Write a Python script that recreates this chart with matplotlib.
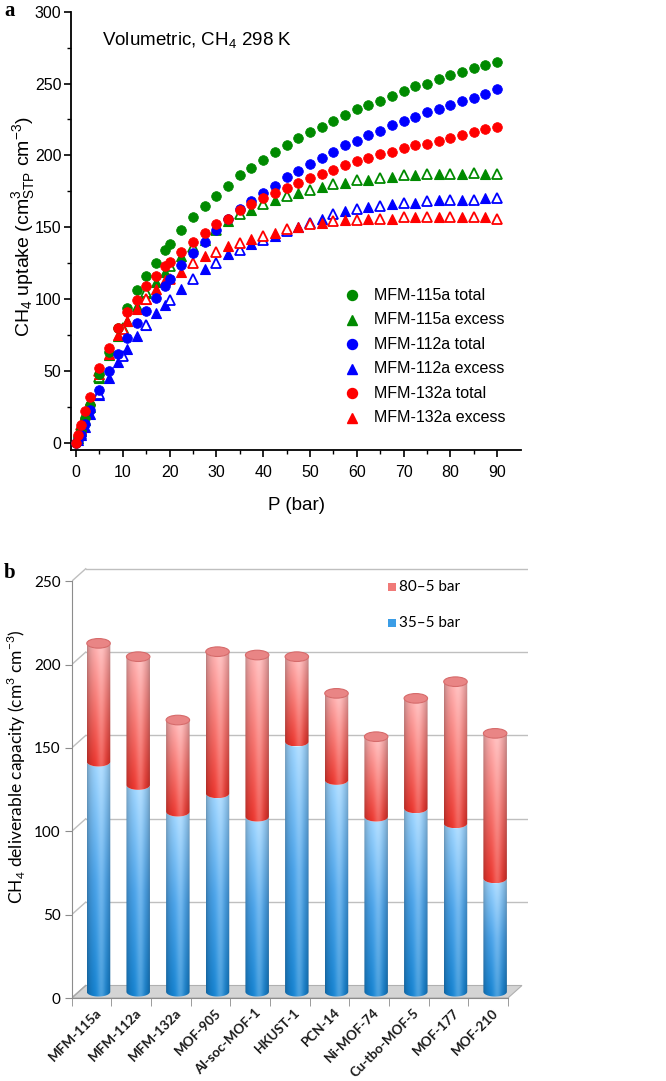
import numpy as np
import matplotlib
matplotlib.use('Agg')
import matplotlib.pyplot as plt
import matplotlib.transforms as mtransforms
from matplotlib.path import Path
from matplotlib.patches import PathPatch, Ellipse, Polygon, Rectangle

# ---------------- data: panel a ----------------
P_total = [0, 0.5, 1, 2, 3, 5, 7, 9, 11, 13, 15, 17, 19, 20, 22.5, 25, 27.5, 30, 32.5, 35,
           37.5, 40, 42.5, 45, 47.5, 50, 52.5, 55, 57.5, 60, 62.5, 65, 67.5, 70, 72.5, 75,
           77.5, 80, 82.5, 85, 87.5, 90]
mfm115_total = [0, 4, 9, 17, 26, 48, 63, 80, 94, 106, 116, 125, 134, 138, 148, 157, 165, 172, 179, 186,
                191, 197, 202, 207, 212, 216, 220, 224, 228, 232, 235, 238, 241, 245, 248, 250,
                253, 256, 258, 261, 263, 265]
mfm112_total = [0, 2, 5, 13, 23, 37, 50, 62, 73, 83, 92, 101, 109, 114, 124, 132, 140, 148, 156, 163,
                168, 174, 179, 185, 189, 194, 198, 202, 207, 210, 214, 217, 221, 224, 227, 230,
                232, 235, 238, 240, 243, 246]
mfm132_total = [0, 5, 12, 22, 32, 52, 66, 80, 91, 99, 109, 116, 123, 126, 133, 140, 146, 152, 156, 162,
                166, 170, 174, 177, 181, 184, 187, 190, 193, 196, 198, 201, 202, 205, 207, 208,
                210, 212, 214, 216, 218, 220]

P_ads = [0.5, 1, 2, 3, 5, 7, 9, 11, 13, 15, 17, 19, 22.5, 27.5, 32.5, 37.5, 42.5, 47.5, 52.5,
         57.5, 62.5, 67.5, 72.5, 77.5, 82.5, 87.5]
P_des = [1, 5, 10, 15, 20, 25, 30, 35, 40, 45, 50, 55, 60, 65, 70, 75, 80, 85, 90]

mfm115_exc_ads = [3, 8, 16, 25, 45, 61, 74, 85, 95, 104, 112, 119, 130, 141, 154, 162, 169, 174, 178,
                  181, 183, 185, 186, 187, 187, 187]
mfm115_exc_des = [9, 46, 80, 105, 123, 136, 148, 159, 166, 172, 176, 180, 183, 184, 186, 187, 187, 188, 187]
mfm112_exc_ads = [2, 5, 11, 20, 33, 45, 56, 65, 74, 82, 90, 96, 107, 121, 131, 138, 144, 150, 156,
                  161, 164, 166, 167, 169, 169, 170]
mfm112_exc_des = [6, 34, 60, 82, 99, 114, 125, 134, 141, 147, 153, 159, 163, 165, 167, 168, 169, 169, 170]
mfm132_exc_ads = [5, 10, 20, 30, 48, 62, 75, 85, 93, 100, 107, 113, 119, 130, 137, 142, 146, 150, 153,
                  155, 156, 156, 157, 157, 157, 157]
mfm132_exc_des = [12, 50, 79, 100, 114, 125, 133, 139, 144, 149, 152, 154, 155, 156, 157, 157, 157, 157, 156]

series_labels = ['MFM-115a total', 'MFM-115a excess', 'MFM-112a total', 'MFM-112a excess',
                 'MFM-132a total', 'MFM-132a excess']

# ---------------- data: panel b ----------------
materials = ['MFM-115a', 'MFM-112a', 'MFM-132a', 'MOF-905', 'Al-soc-MOF-1', 'HKUST-1', 'PCN-14',
             'Ni-MOF-74', 'Cu-tbo-MOF-5', 'MOF-177', 'MOF-210']
deliv_35_5 = [138, 124, 108, 119, 105, 150, 127, 105, 110, 101, 68]
deliv_80_5 = [209, 201, 163, 204, 202, 201, 179, 153, 176, 186, 155]
legend_b = ['80\u20135 bar', '35\u20135 bar']

# ---------------- figure ----------------
W, H = 666, 1081
plt.rcParams['font.family'] = ['Liberation Sans', 'DejaVu Sans']
fig = plt.figure(figsize=(W / 100, H / 100), dpi=100)


def rect(l, t, r, b):
    return [l / W, 1 - b / H, (r - l) / W, (b - t) / H]


def fx(px):
    return px / W


def fy(py):
    return 1 - py / H


# ======== panel a ========
ax1 = fig.add_axes(rect(71.3, 11.7, 520.6, 450))
ax1.set_xlim(-1, 95)
ax1.set_ylim(-5.1, 300)
for s in ['top', 'right']:
    ax1.spines[s].set_visible(False)
for s in ['left', 'bottom']:
    ax1.spines[s].set_linewidth(1.3)
ax1.set_xticks(np.arange(0, 91, 10))
ax1.set_xticks(np.arange(0, 91, 5), minor=True)
ax1.set_yticks(np.arange(0, 301, 50))
ax1.set_yticks(np.arange(0, 301, 25), minor=True)
ax1.tick_params(which='major', direction='out', length=5, width=1.2, labelsize=11.5)
ax1.tick_params(which='minor', direction='out', length=3, width=1.0)
ax1.tick_params(axis='x', pad=6)
ax1.tick_params(axis='y', pad=2)

GREEN, BLUE, RED = '#008a00', '#0000ff', '#ff0000'
series = [
    (GREEN, mfm115_total, mfm115_exc_ads, mfm115_exc_des),
    (BLUE, mfm112_total, mfm112_exc_ads, mfm112_exc_des),
    (RED, mfm132_total, mfm132_exc_ads, mfm132_exc_des),
]
for col, tot, ads, des in series:
    ax1.plot(P_ads, ads, ls='none', marker='^', ms=7.2, mfc=col, mec=col, mew=0.8, zorder=3)
    ax1.plot(P_des, des, ls='none', marker='^', ms=6.8, mfc='white', mec=col, mew=1.3, zorder=3)
for col, tot, ads, des in series:
    ax1.plot(P_total, tot, ls='none', marker='o', ms=7.0, mfc=col, mec=col, mew=0.5, zorder=4)

# legend (manual)
leg_y0, leg_dy = 295, 24.6
for k, lab in enumerate(series_labels):
    col = [GREEN, GREEN, BLUE, BLUE, RED, RED][k]
    mk = 'o' if k % 2 == 0 else '^'
    yy = leg_y0 + k * leg_dy
    fig.lines.append(plt.Line2D([fx(352)], [fy(yy)], transform=fig.transFigure, ls='none',
                                marker=mk, ms=7.2, mfc=col, mec=col))
    fig.text(fx(374), fy(yy), lab, fontsize=11.5, va='center', ha='left')

fig.text(fx(102), fy(46), r'Volumetric, CH$_\mathregular{4}$ 298 K', fontsize=13.5,
         va='baseline', ha='left')
fig.text(fx(296), fy(505), 'P (bar)', fontsize=13.5, ha='center', va='center')
fig.text(fx(24), fy(227), r'CH$_\mathregular{4}$ uptake (cm$\mathregular{^3_{STP}}$ cm$\mathregular{^{-3}}$)',
         fontsize=14, rotation=90, ha='center', va='center')
fig.text(fx(4), fy(11), 'a', fontfamily='Liberation Serif', fontweight='bold', fontsize=15,
         va='center', ha='left')
fig.text(fx(4), fy(573), 'b', fontfamily='Liberation Serif', fontweight='bold', fontsize=15,
         va='center', ha='left')

# ======== panel b ========
PX_CAT = 39.66
PX_VAL = 1.667
x_left_px, y_zero_px = 71.7, 998.0
xmax, ymin, ymax = 11.0, -3.0, 262.0
ax2 = fig.add_axes(rect(x_left_px, y_zero_px - ymax * PX_VAL,
                        x_left_px + (xmax + 0.5) * PX_CAT, y_zero_px - ymin * PX_VAL))
ax2.set_xlim(-0.5, xmax)
ax2.set_ylim(ymin, ymax)
ax2.patch.set_alpha(0)
n = len(materials)
DX = 14.0 / PX_CAT
DY = 12.5 / PX_VAL
GRID = '#bfbfbf'
AXC = '#8c8c8c'

for s in ['top', 'right']:
    ax2.spines[s].set_visible(False)
ax2.spines['left'].set_bounds(0, 250)
ax2.spines['left'].set_color(AXC)
ax2.spines['bottom'].set_position(('data', 0))
ax2.spines['bottom'].set_bounds(-0.5, n - 0.5)
ax2.spines['bottom'].set_color(AXC)
ax2.set_yticks(np.arange(0, 251, 50))
ax2.set_xticks(np.arange(n))
ax2.set_xticks(np.arange(n + 1) - 0.5, minor=True)
ax2.tick_params(axis='y', which='major', direction='out', length=5, color=AXC, labelsize=11, pad=3)
ax2.tick_params(axis='x', which='major', length=0, pad=6)
ax2.tick_params(axis='x', which='minor', direction='out', length=6, color=AXC)
ax2.set_xticklabels(materials, rotation=45, ha='right', rotation_mode='anchor',
                    fontsize=9.6, fontweight='bold', color='#1a1a1a', fontfamily='Lato')
shift = mtransforms.ScaledTranslation(4 / 100, 0, fig.dpi_scale_trans)
for lab in ax2.get_xticklabels():
    lab.set_transform(lab.get_transform() + shift)
for lab in ax2.get_yticklabels():
    lab.set_fontfamily('Lato')

# gridlines on back wall + side wall
for v in range(50, 251, 50):
    ax2.plot([-0.5 + DX, xmax], [v + DY, v + DY], color=GRID, lw=1.0, zorder=1)
    ax2.plot([-0.5, -0.5 + DX], [v, v + DY], color=GRID, lw=1.0, zorder=1)

# floor
floor = Polygon([[-0.5, 0], [n - 0.5, 0], [n - 0.5 + DX, DY], [-0.5 + DX, DY]], closed=True,
                facecolor='#d4d4d4', edgecolor='#b0b0b0', lw=0.8, zorder=1.5)
ax2.add_patch(floor)
ax2.plot([-0.5, -0.5 + DX], [0, DY], color='#a8a8a8', lw=1.0, zorder=1.6)


def interp_stops(stops, t):
    ts = np.array([s[0] for s in stops])
    cs = np.array([s[1] for s in stops])
    return np.stack([np.interp(t, ts, cs[:, k]) for k in range(3)], axis=-1)


BLUE_STOPS = [(0.0, (0.08, 0.50, 0.80)), (0.5, (0.28, 0.62, 0.89)), (1.0, (0.60, 0.81, 0.97))]
RED_STOPS = [(0.0, (0.90, 0.20, 0.17)), (0.5, (0.94, 0.44, 0.42)), (1.0, (0.97, 0.68, 0.68))]

u = np.linspace(0, 1, 60)
shade = 0.74 + 0.30 * np.sin(np.pi * u) ** 0.6
highlight = 0.22 * np.exp(-((u - 0.60) / 0.17) ** 2)


def grad_image(stops, ny=80):
    t = np.linspace(0, 1, ny)
    base = interp_stops(stops, t)[:, None, :]
    img = base * shade[None, :, None]
    img = img + (1 - img) * highlight[None, :, None]
    return np.clip(img, 0, 1)


HW = 23.5 / PX_CAT / 2
E = 4.8 / PX_VAL
th = np.linspace(np.pi, 2 * np.pi, 40)


def seg_path(cx, y0, y1):
    bot = np.column_stack([cx + HW * np.cos(th), y0 + E * np.sin(th)])
    top = np.column_stack([cx + HW * np.cos(th[::-1]), y1 + E * np.sin(th[::-1])])
    verts = np.vstack([[cx - HW, y1], bot, top, [cx - HW, y1]])
    codes = [Path.MOVETO] + [Path.LINETO] * (len(verts) - 2) + [Path.CLOSEPOLY]
    return Path(verts, codes)


blue_img = grad_image(BLUE_STOPS)
red_img = grad_image(RED_STOPS)
for i in range(n):
    cx = i + DX / 2
    base = DY / 2
    yb = base + deliv_35_5[i]
    yt = base + deliv_80_5[i]
    for (y0, y1, img) in [(base, yb, blue_img), (yb, yt, red_img)]:
        pp = PathPatch(seg_path(cx, y0, y1), facecolor='none', edgecolor='none')
        ax2.add_patch(pp)
        im = ax2.imshow(img, extent=(cx - HW, cx + HW, y0 - E, y1), origin='lower',
                        aspect='auto', interpolation='bilinear', zorder=3)
        im.set_clip_path(pp)
    cap = Ellipse((cx, yt), 2 * HW, 2 * E, facecolor='#e98585', edgecolor='#d66a6a', lw=0.8, zorder=4)
    ax2.add_patch(cap)

ax2.set_xlim(-0.5, xmax)
ax2.set_ylim(ymin, ymax)

fig.text(fx(16), fy(767), r'CH$_\mathregular{4}$ deliverable capacity (cm$^\mathregular{3}$ cm$^\mathregular{-3}$)',
         fontsize=12.5, rotation=90, ha='center', va='center', fontfamily='Lato')

# legend b (manual)
for k, (lab, col) in enumerate(zip(legend_b, ['#f07a78', '#3b9de6'])):
    yy = 587 + k * 36
    fig.patches.append(Rectangle((fx(388), fy(yy + 4)), 8 / W, 8 / H, transform=fig.transFigure,
                                 facecolor=col, edgecolor='none'))
    fig.text(fx(399), fy(yy), lab, fontsize=11, va='center', ha='left', fontfamily='Lato')

fig.savefig('out.png', dpi=100)
